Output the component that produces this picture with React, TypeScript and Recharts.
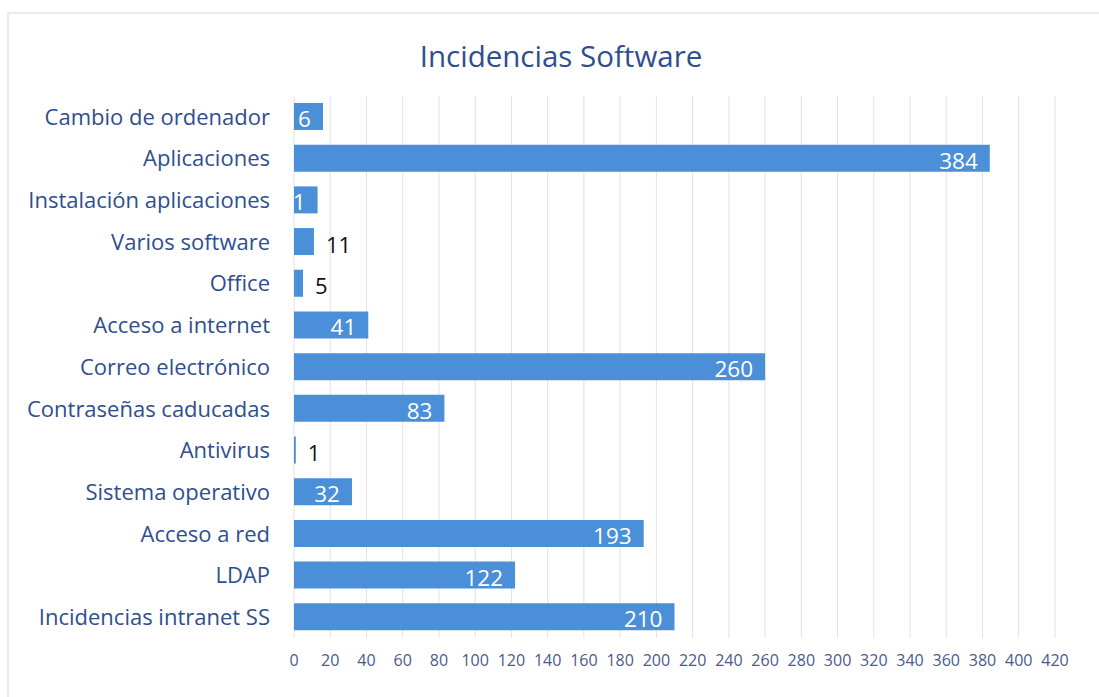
import React from "react";
import { BarChart, Bar, XAxis, YAxis, CartesianGrid, LabelList } from "recharts";

const categories = [
  "Cambio de ordenador",
  "Aplicaciones",
  "Instalación aplicaciones",
  "Varios software",
  "Office",
  "Acceso a internet",
  "Correo electrónico",
  "Contraseñas caducadas",
  "Antivirus",
  "Sistema operativo",
  "Acceso a red",
  "LDAP",
  "Incidencias intranet SS",
];
const values = [16, 384, 13, 11, 5, 41, 260, 83, 1, 32, 193, 122, 210];
const valueLabels = ["6", "384", "1", "11", "5", "41", "260", "83", "1", "32", "193", "122", "210"];
const xTicks = [0, 20, 40, 60, 80, 100, 120, 140, 160, 180, 200, 220, 240, 260, 280, 300, 320, 340, 360, 380, 400, 420];

const data = categories.map((name, i) => ({ name, value: values[i], label: valueLabels[i] }));

const FONT = "'Open Sans', Lato, sans-serif";

const renderLabel = (props: any) => {
  const { x, y, width, height, index } = props;
  const v = values[index];
  const txt = valueLabels[index];
  const cy = y + height / 2 + 2;
  if (v >= 13) {
    return (
      <text x={x + width - 12} y={cy} textAnchor="end" dominantBaseline="central" fill="#ffffff" fontSize={22.5} fontFamily={FONT}>
        {txt}
      </text>
    );
  }
  return (
    <text x={x + width + 12} y={cy} textAnchor="start" dominantBaseline="central" fill="#111111" fontSize={22} fontFamily={FONT}>
      {txt}
    </text>
  );
};

export default function App() {
  return (
    <div style={{ position: "absolute", left: 0, top: 0, width: 1099, height: 697, background: "#ffffff", overflow: "hidden" }}>
      <div style={{ position: "absolute", left: 7, top: 12, width: 1100, height: 700, border: "2px solid #ebebeb", boxSizing: "border-box" }} />
      <div style={{ position: "absolute", left: 0, width: 1122, top: 35, textAlign: "center", fontFamily: FONT, fontSize: 29.5, color: "#2f4e8f" }}>
        Incidencias Software
      </div>
      <div style={{ position: "absolute", left: 0, top: 0 }}>
        <BarChart
          width={1099}
          height={697}
          data={data}
          layout="vertical"
          margin={{ top: 96, right: 44, bottom: 29, left: 10 }}
        >
          <CartesianGrid horizontal={false} vertical={true} stroke="#e2e2e2" />
          <XAxis
            type="number"
            domain={[0, 420]}
            ticks={xTicks}
            interval={0}
            axisLine={false}
            tickLine={false}
            tickMargin={11}
            height={30}
            tick={{ fill: "#4a5a8c", fontSize: 16, fontFamily: FONT }}
          />
          <YAxis
            type="category"
            dataKey="name"
            width={284}
            axisLine={false}
            tickLine={false}
            tickMargin={18}
            interval={0}
            tick={{ fill: "#2f4e8f", fontSize: 22, fontFamily: FONT }}
          />
          <Bar dataKey="value" fill="#4a8fd8" barSize={27} isAnimationActive={false}>
            <LabelList dataKey="label" content={renderLabel} />
          </Bar>
        </BarChart>
      </div>
    </div>
  );
}
